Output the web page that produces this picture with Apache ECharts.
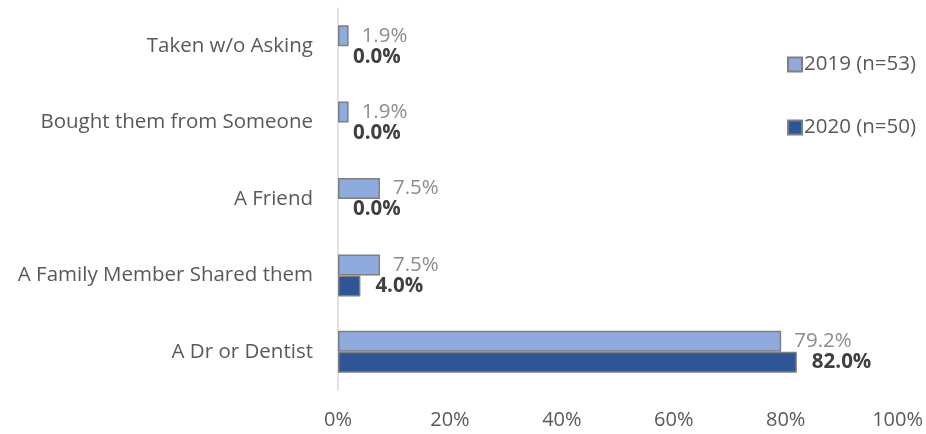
<!DOCTYPE html>
<html>
<head>
<meta charset="utf-8">
<script src="https://cdn.jsdelivr.net/npm/echarts@6/dist/echarts.min.js"></script>
<style>
  html, body { margin: 0; padding: 0; background: #fff; }
  #chart { width: 926px; height: 434px; }
</style>
</head>
<body>
<div id="chart"></div>
<script>
var categories = ['Taken w/o Asking', 'Bought them from Someone', 'A Friend', 'A Family Member Shared them', 'A Dr or Dentist'];
var values2019 = [1.9, 1.9, 7.5, 7.5, 79.2];
var values2020 = [0.0, 0.0, 0.0, 4.0, 82.0];
var seriesNames = ['2019 (n=53)', '2020 (n=50)'];

var font = 'Open Sans';

// zero-length bars get no outline, like the original
function barData(arr) {
    return arr.map(function (v) {
        return v === 0 ? { value: v, itemStyle: { borderWidth: 0 } } : v;
    });
}
function pct(p) { return p.value.toFixed(1) + '%'; }

var chart = echarts.init(document.getElementById('chart'));
chart.setOption({
    backgroundColor: '#fff',
    animation: false,
    grid: { left: 338, right: 28, top: 8, bottom: 44 },
    legend: {
        orient: 'vertical',
        left: 782,
        top: 49,
        itemGap: 42,
        itemWidth: 14,
        itemHeight: 14,
        icon: 'rect',
        textStyle: { color: '#595959', fontSize: 20.5, fontFamily: font, padding: [0, 0, 0, -3] }
    },
    xAxis: {
        type: 'value',
        min: 0,
        max: 100,
        interval: 20,
        axisLine: { show: false },
        axisTick: { show: false },
        splitLine: { show: false },
        axisLabel: {
            color: '#595959', fontSize: 20, fontFamily: font, margin: 20,
            formatter: '{value}%'
        }
    },
    yAxis: {
        type: 'category',
        inverse: true,
        data: categories,
        axisLine: { lineStyle: { color: '#d9d9d9', width: 1.5 } },
        axisTick: { show: false },
        axisLabel: { color: '#595959', fontSize: 20.5, fontFamily: font, margin: 25 }
    },
    series: [{
        name: seriesNames[0],
        type: 'bar',
        data: barData(values2019),
        barGap: '0%',
        barCategoryGap: '45%',
        itemStyle: { color: '#8faadc', borderColor: '#7f7f7f', borderWidth: 1.5 },
        label: {
            show: true, position: 'right', distance: 13,
            color: '#8c8c8c', fontSize: 20.5, fontFamily: font,
            formatter: pct
        }
    }, {
        name: seriesNames[1],
        type: 'bar',
        data: barData(values2020),
        itemStyle: { color: '#2f5597', borderColor: '#7f7f7f', borderWidth: 1.5 },
        label: {
            show: true, position: 'right', distance: 15,
            color: '#404040', fontSize: 20.5, fontWeight: 'bold', fontFamily: font,
            formatter: pct
        }
    }]
});
</script>
</body>
</html>
